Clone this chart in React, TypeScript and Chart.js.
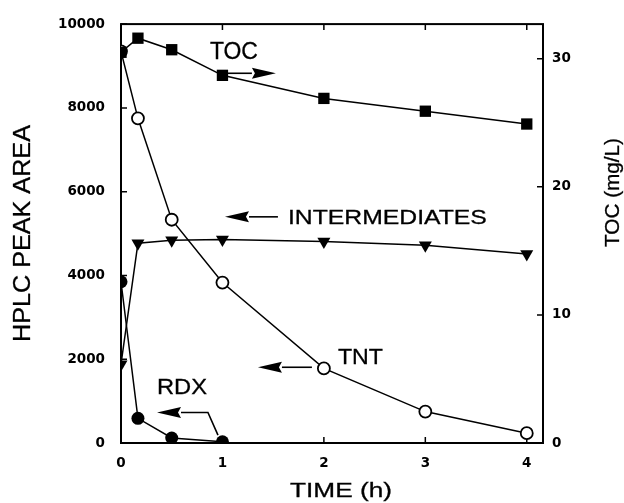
import React, { useEffect, useRef } from "react";
import { Chart, registerables } from "chart.js";

Chart.register(...registerables);

// ---- data ----
const TIME = [0, 0.167, 0.5, 1, 2, 3, 4];
const TNT = [9350, 7750, 5330, 3830, 1780, 750, 235];
const INTERMEDIATES = [1880, 4770, 4840, 4860, 4810, 4720, 4510];
const RDX_TIME = [0, 0.167, 0.5, 1];
const RDX = [3850, 590, 120, 30];
const TOC = [30.5, 31.6, 30.7, 28.7, 26.9, 25.9, 24.9];

const X_TICKS = [0, 1, 2, 3, 4];
const Y_TICKS = [0, 2000, 4000, 6000, 8000, 10000];
const Y2_TICKS = [0, 10, 20, 30];

// annotation anchors in data units (x: hours, y: HPLC peak area)
const LABELS = [
  { text: "TOC", x: 1.113, y: 9155, size: 24, width: 48 },
  { text: "INTERMEDIATES", x: 2.626, y: 5235, size: 21, width: 199 },
  { text: "TNT", x: 2.36, y: 1878, size: 22, width: 45 },
  { text: "RDX", x: 0.601, y: 1174, size: 22, width: 50 },
];
const ARROWS = [
  { pts: [[1, 8826], [1.527, 8826]] },
  { pts: [[1.547, 5399], [1.025, 5399]] },
  { pts: [[1.882, 1808], [1.35, 1808]] },
  { pts: [[0.956, 188], [0.857, 728], [0.355, 728]] },
];

const FONT = '"Liberation Sans", Arial, sans-serif';

function stretchedText(
  ctx: CanvasRenderingContext2D,
  text: string,
  cx: number,
  baseline: number,
  size: number,
  width: number,
  rotate = false
) {
  ctx.save();
  ctx.font = `${size}px ${FONT}`;
  const w = ctx.measureText(text).width;
  const sx = width / w;
  if (rotate) {
    ctx.translate(baseline, cx);
    ctx.rotate(-Math.PI / 2);
  } else {
    ctx.translate(cx, baseline);
  }
  ctx.scale(sx, 1);
  ctx.fillStyle = "#000";
  ctx.strokeStyle = "#000";
  ctx.lineWidth = 0.3;
  ctx.textAlign = "center";
  ctx.textBaseline = "alphabetic";
  ctx.fillText(text, 0, 0);
  ctx.strokeText(text, 0, 0);
  ctx.restore();
}

const decorPlugin = {
  id: "decor",
  beforeDatasetsDraw(chart: any) {
    const { ctx, chartArea } = chart;
    const { left, right, top, bottom } = chartArea;
    const xs = chart.scales.x;
    const ys = chart.scales.y;
    const y2 = chart.scales.y2;
    ctx.save();
    ctx.strokeStyle = "#000";
    ctx.lineWidth = 2;
    ctx.strokeRect(left, top, right - left, bottom - top);
    ctx.lineWidth = 1.5;
    ctx.beginPath();
    X_TICKS.forEach((v) => {
      const px = xs.getPixelForValue(v);
      ctx.moveTo(px, top);
      ctx.lineTo(px, top + 6);
      ctx.moveTo(px, bottom);
      ctx.lineTo(px, bottom - 6);
    });
    Y_TICKS.forEach((v) => {
      const py = ys.getPixelForValue(v);
      ctx.moveTo(left, py);
      ctx.lineTo(left + 6, py);
    });
    Y2_TICKS.forEach((v) => {
      const py = y2.getPixelForValue(v);
      ctx.moveTo(right, py);
      ctx.lineTo(right - 6, py);
    });
    ctx.stroke();
    ctx.restore();
  },
  afterDraw(chart: any) {
    const { ctx, chartArea } = chart;
    const xs = chart.scales.x;
    const ys = chart.scales.y;
    // axis titles
    stretchedText(ctx, "HPLC PEAK AREA", (chartArea.top + chartArea.bottom) / 2, 30, 23, 217, true);
    stretchedText(ctx, "TOC (mg/L)", 192.5, 619, 20, 109, true);
    stretchedText(ctx, "TIME (h)", (chartArea.left + chartArea.right) / 2 + 9, 496.5, 21, 102);
    // labels
    LABELS.forEach((l) => {
      stretchedText(ctx, l.text, xs.getPixelForValue(l.x), ys.getPixelForValue(l.y), l.size, l.width);
    });
    // arrows
    ctx.save();
    ctx.strokeStyle = "#000";
    ctx.fillStyle = "#000";
    ctx.lineWidth = 1.6;
    ARROWS.forEach((a) => {
      const p = a.pts.map(([x, y]) => [xs.getPixelForValue(x), ys.getPixelForValue(y)]);
      const n = p.length;
      const [tx, ty] = p[n - 1];
      const [px, py] = p[n - 2];
      const len = Math.hypot(tx - px, ty - py);
      const ux = (tx - px) / len;
      const uy = (ty - py) / len;
      const headLen = 24;
      const half = 5.5;
      const bx = tx - ux * headLen;
      const by = ty - uy * headLen;
      ctx.beginPath();
      ctx.moveTo(p[0][0], p[0][1]);
      for (let i = 1; i < n - 1; i++) ctx.lineTo(p[i][0], p[i][1]);
      ctx.lineTo(bx, by);
      ctx.stroke();
      ctx.beginPath();
      ctx.moveTo(tx, ty);
      ctx.lineTo(bx - uy * half, by + ux * half);
      ctx.lineTo(bx + ux * 3, by + uy * 3);
      ctx.lineTo(bx + uy * half, by - ux * half);
      ctx.closePath();
      ctx.fill();
    });
    ctx.restore();
  },
};

const fixedTicks = (values: number[]) => (scale: any) => {
  scale.ticks = values.map((v) => ({ value: v }));
};

export default function App() {
  const ref = useRef<HTMLCanvasElement | null>(null);
  useEffect(() => {
    if (!ref.current) return;
    const tickFont = { family: '"DejaVu Sans", sans-serif', size: 13.5, weight: "bold" as const };
    const plain = (v: any) => String(v);
    const chart = new Chart(ref.current, {
      type: "line",
      data: {
        datasets: [
          {
            label: "TOC",
            yAxisID: "y2",
            data: TIME.map((t, i) => ({ x: t, y: TOC[i] })),
            borderColor: "#000",
            backgroundColor: "#000",
            borderWidth: 1.5,
            pointStyle: "rect",
            pointRadius: 8,
            pointBorderWidth: 0,
          },
          {
            label: "RDX",
            yAxisID: "y",
            data: RDX_TIME.map((t, i) => ({ x: t, y: RDX[i] })),
            borderColor: "#000",
            backgroundColor: "#000",
            borderWidth: 1.5,
            pointStyle: "circle",
            pointRadius: 6.5,
            pointBorderWidth: 0,
          },
          {
            label: "INTERMEDIATES",
            yAxisID: "y",
            data: TIME.map((t, i) => ({ x: t, y: INTERMEDIATES[i] })),
            borderColor: "#000",
            backgroundColor: "#000",
            borderWidth: 1.5,
            pointStyle: "triangle",
            pointRotation: 180,
            pointRadius: 7.5,
            pointBorderWidth: 0,
          },
          {
            label: "TNT",
            yAxisID: "y",
            data: TIME.map((t, i) => ({ x: t, y: TNT[i] })),
            borderColor: "#000",
            backgroundColor: "#fff",
            borderWidth: 1.5,
            pointStyle: "circle",
            pointRadius: 6,
            pointBorderWidth: 1.8,
          },
        ],
      },
      options: {
        responsive: false,
        animation: false,
        events: [],
        layout: { padding: { top: 17, left: 0, right: 0, bottom: 0 } },
        plugins: { legend: { display: false }, tooltip: { enabled: false } },
        scales: {
          x: {
            type: "linear",
            min: 0,
            max: 4.16,
            grid: { display: false, drawTicks: false },
            border: { display: false },
            ticks: { font: tickFont, color: "#000", padding: 12, maxRotation: 0, callback: plain },
            afterBuildTicks: fixedTicks(X_TICKS),
            afterFit: (s: any) => {
              s.height = 60;
            },
          },
          y: {
            type: "linear",
            position: "left",
            min: 0,
            max: 10000,
            grid: { display: false, drawTicks: false },
            border: { display: false },
            ticks: { font: tickFont, color: "#000", padding: 16, callback: plain },
            afterBuildTicks: fixedTicks(Y_TICKS),
            afterFit: (s: any) => {
              s.width = 121;
            },
          },
          y2: {
            type: "linear",
            position: "right",
            min: 0,
            max: 32.7,
            grid: { display: false, drawTicks: false },
            border: { display: false },
            ticks: { font: tickFont, color: "#000", padding: 9, callback: plain },
            afterBuildTicks: fixedTicks(Y2_TICKS),
            afterFit: (s: any) => {
              s.width = 81;
            },
          },
        },
      },
      plugins: [decorPlugin],
    });
    return () => chart.destroy();
  }, []);
  return (
    <div style={{ position: "fixed", left: 0, top: 0, width: 624, height: 503, background: "#fff" }}>
      <canvas ref={ref} width={624} height={503} style={{ display: "block" }} />
    </div>
  );
}
